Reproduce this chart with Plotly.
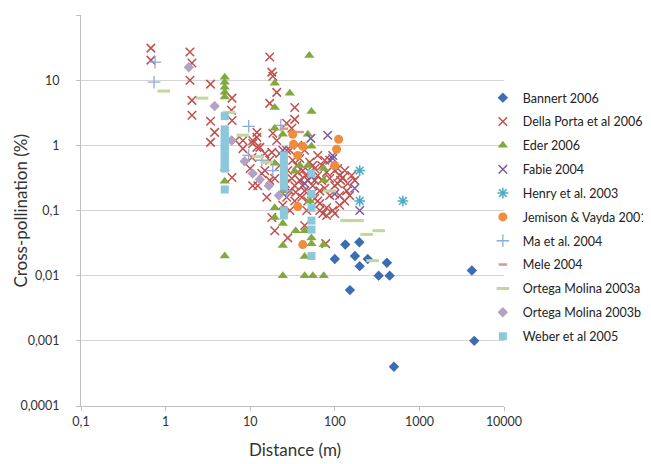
import plotly.graph_objects as go

# ---------------- data (distance in m, cross-pollination in %) ----------------
bannert_x = [133, 195, 100, 173, 245, 197, 413, 330, 445, 151, 4170, 4450, 500]
bannert_y = [0.03, 0.0325, 0.018, 0.02, 0.018, 0.014, 0.0158, 0.01, 0.01, 0.006, 0.012, 0.001, 0.0004]

della_x = [0.67, 0.67, 1.94, 2.05, 1.94, 3.4, 2.05, 2.05, 3.4, 3.8, 3.4, 6.1, 6.0, 6.1,
           17, 18, 18.5, 20.6, 17, 33.6, 33.6, 8.2, 10.7, 12, 12, 14.9, 18.5, 20.6, 27, 31,
           18, 22.3, 27, 6.1, 10, 13.7, 12.3, 10.7, 15.7, 19.5, 27, 29.4, 18, 19.5, 27.8,
           44, 46.6, 78,
           31.8, 35.5, 38.5, 41.8, 45.3, 38.5, 33.6, 50.6, 57.9, 62.8, 54.8, 66.4, 70, 80,
           87, 99.7, 114, 124, 142, 131, 108, 76, 62.8, 44, 36.5, 29.4, 27.8, 31, 34.5,
           40.7, 47.9, 57.9, 66.4, 80, 94.5, 66.4, 80, 114, 131, 150, 114, 87, 172, 158,
           138, 87, 50.6, 41.8, 54.8, 76, 99.7, 72, 117, 108, 57.9, 48, 36.5, 70, 99.7,
           44, 53, 62.8, 33.6, 29.4, 26, 22.3, 14.9, 24.3,
           12, 10.7, 8.2, 10.5, 13, 17, 17, 6.7]
della_y = [31, 20.3, 27, 18.3, 10, 8.7, 4.9, 2.9, 2.34, 1.58, 1.11, 5.3, 3.45, 2.4,
           22.6, 13.3, 11.5, 6.5, 4.4, 3.8, 2.5, 1.19, 1.19, 1.58, 0.93, 0.75, 1.53, 1.19, 2.18, 1.83,
           0.78, 0.75, 0.84, 0.32, 0.44, 0.37, 0.24, 0.24, 0.16, 0.31, 0.16, 0.10, 0.078, 0.049, 0.038,
           0.059, 0.10, 0.031,
           0.59, 0.49, 0.63, 0.41, 0.345, 0.29, 0.24, 0.55, 0.44, 0.345, 0.24, 0.20, 0.29, 0.385,
           0.31, 0.24, 0.345, 0.32, 0.26, 0.41, 0.44, 0.59, 0.70, 0.84, 1.0, 0.84, 0.41, 0.31, 0.19,
           0.16, 0.14, 0.153, 0.128, 0.11, 0.10, 0.10, 0.084, 0.12, 0.14, 0.17, 0.17, 0.17, 0.29, 0.345,
           0.20, 0.59, 0.385, 0.24, 0.49, 0.22, 0.09, 0.09, 0.29, 0.26, 0.29, 0.29, 0.385, 0.49, 0.41,
           0.20, 0.18, 0.14, 0.14, 0.20, 0.26, 0.49, 0.41, 0.12,
           1.33, 1.07, 0.89, 0.65, 0.93, 0.59, 0.29, 1.19]

eder_x = [5, 5, 5, 5, 5, 5, 5, 5, 50, 19.5, 29.4, 19.5, 53, 19.5, 24.3, 48, 53, 19.5, 74, 33.6,
          48, 74, 19.5, 19.5, 24.3, 34.5, 44, 53, 53, 74, 24.3, 44, 24.3, 44, 55, 74, 38.5, 50.6, 24.3]
eder_y = [11.1, 9.3, 7.8, 6.5, 5.5, 0.44, 0.28, 0.02, 24, 9.0, 6.3, 3.8, 3.3, 1.83, 1.48, 1.48, 0.97,
          0.53, 0.44, 0.40, 0.49, 0.29, 0.11, 0.078, 0.063, 0.049, 0.049, 0.038, 0.031, 0.03, 0.029,
          0.0196, 0.01, 0.01, 0.01, 0.01, 0.49, 0.14, 0.20]

fabie_x = [82.4, 52, 24.3, 94.5, 94.5, 172, 99.7, 197, 44, 53]
fabie_y = [1.43, 1.28, 0.84, 0.70, 0.63, 0.22, 0.18, 0.10, 0.26, 0.33]

henry_x = [197, 197, 638]
henry_y = [0.41, 0.14, 0.14]

jemison_x = [31.8, 32.5, 41.8, 36.5, 111, 105, 99.7, 36.5, 41.8]
jemison_y = [1.48, 1.04, 0.97, 0.70, 1.24, 0.87, 0.49, 0.115, 0.03]

ma_x = [0.75, 0.73, 9.6, 9.6, 13.7, 18.5, 23, 27]
ma_y = [18.9, 9.3, 1.96, 0.70, 0.59, 0.41, 2.03, 0.20]

mele_x = [38.5, 25]
mele_y = [1.6, 1.8]

ortega_a_x = [0.95, 2.7, 5.6, 8.2, 12.3, 15.7, 87, 138, 186, 238, 330, 280]
ortega_a_y = [6.8, 5.3, 3.2, 1.43, 0.67, 0.55, 0.20, 0.07, 0.07, 0.043, 0.049, 0.017]

ortega_b_x = [1.88, 3.8, 6.0, 8.6, 10.7, 13, 16.6, 21.8]
ortega_b_y = [15.8, 4.0, 1.19, 0.57, 0.37, 0.30, 0.24, 0.17]

weber_x = [5] * 13 + [25] * 9 + [53] * 6
weber_y = [2.8, 1.76, 1.53, 1.33, 1.15, 1.0, 0.87, 0.75, 0.65, 0.57, 0.49, 0.44, 0.21,
           0.70, 0.59, 0.49, 0.41, 0.345, 0.29, 0.24, 0.10, 0.084,
           0.37, 0.18, 0.11, 0.07, 0.051, 0.02]

x_tickvals = [0.1, 1, 10, 100, 1000, 10000]
x_ticktext = ["0,1", "1", "10", "100", "1000", "10000"]
y_tickvals = [0.0001, 0.001, 0.01, 0.1, 1, 10, 100]
y_ticktext = ["0,0001", "0,001", "0,01", "0,1", "1", "10", "100"]

# ---------------- figure ----------------
series = [
    ("Bannert 2006", bannert_x, bannert_y, dict(symbol="diamond", size=8, color="#3C6DB4")),
    ("Della Porta et al 2006", della_x, della_y,
     dict(symbol="x-thin-open", size=8.5, color="#C0504D", line=dict(width=1.5, color="#C0504D"))),
    ("Eder 2006", eder_x, eder_y, dict(symbol="triangle-up", size=9, color="#82A83E")),
    ("Fabie 2004", fabie_x, fabie_y,
     dict(symbol="x-thin-open", size=8.5, color="#7A5C9E", line=dict(width=1.5, color="#7A5C9E"))),
    ("Henry et al. 2003", henry_x, henry_y,
     dict(symbol="asterisk-open", size=9, color="#4BACC6", line=dict(width=1.5, color="#4BACC6"))),
    ("Jemison & Vayda 2001", jemison_x, jemison_y, dict(symbol="circle", size=9, color="#F08C3E")),
    ("Ma et al. 2004", ma_x, ma_y,
     dict(symbol="cross-thin-open", size=9, color="#8FAADC", line=dict(width=1.3, color="#8FAADC"))),
    ("Mele 2004", mele_x, mele_y,
     dict(symbol="line-ew-open", size=6, color="#D99694", line=dict(width=2.5, color="#D99694"))),
    ("Ortega Molina 2003a", ortega_a_x, ortega_a_y,
     dict(symbol="line-ew-open", size=9, color="#C3D69B", line=dict(width=3, color="#C3D69B"))),
    ("Ortega Molina 2003b", ortega_b_x, ortega_b_y, dict(symbol="diamond", size=8, color="#B3A2C7")),
    ("Weber et al 2005", weber_x, weber_y, dict(symbol="square", size=8, color="#8CC8DB")),
]

fig = go.Figure()
for name, xs, ys, mk in series:
    fig.add_trace(go.Scatter(x=xs, y=ys, mode="markers", name=name, marker=mk,
                             legendgroup=name))

font_family = "Lato, 'Open Sans', sans-serif"
fig.update_layout(
    width=651, height=464,
    margin=dict(l=73, r=155, t=7, b=66, autoexpand=False),
    paper_bgcolor="white", plot_bgcolor="white",
    font=dict(family=font_family, size=12, color="#333333"),
    showlegend=True,
    legend=dict(x=0.95, y=0.826, xanchor="left", yanchor="top",
                font=dict(size=12.5, color="#222222"),
                traceorder="grouped", tracegroupgap=4.6,
                bgcolor="rgba(0,0,0,0)"),
    xaxis=dict(type="log", range=[-1, 4], tickvals=x_tickvals, ticktext=x_ticktext,
               automargin=False,
               showgrid=False, zeroline=False, showline=True, linecolor="#BFBFBF", linewidth=1,
               ticks="outside", ticklen=4, tickcolor="#BFBFBF",
               tickfont=dict(size=12.5, color="#333333")),
    yaxis=dict(type="log", range=[-4, 2], tickvals=y_tickvals, ticktext=y_ticktext,
               automargin=False,
               showgrid=True, gridcolor="#D4D4D4", gridwidth=1, zeroline=False,
               showline=True, linecolor="#BFBFBF", linewidth=1,
               ticks="outside", ticklen=4, tickcolor="#BFBFBF",
               tickfont=dict(size=12.5, color="#333333"), ticklabelstandoff=14),
    annotations=[
        dict(text="Distance (m)", xref="paper", yref="paper", x=0.505, y=-0.110,
             xanchor="center", yanchor="middle", showarrow=False,
             font=dict(size=17, color="#333333")),
        dict(text="Cross-pollination (%)", xref="paper", yref="paper", x=-0.144, y=0.50,
             xanchor="center", yanchor="middle", textangle=-90, showarrow=False,
             font=dict(size=17, color="#333333")),
    ],
)

fig.write_html("out.html")
